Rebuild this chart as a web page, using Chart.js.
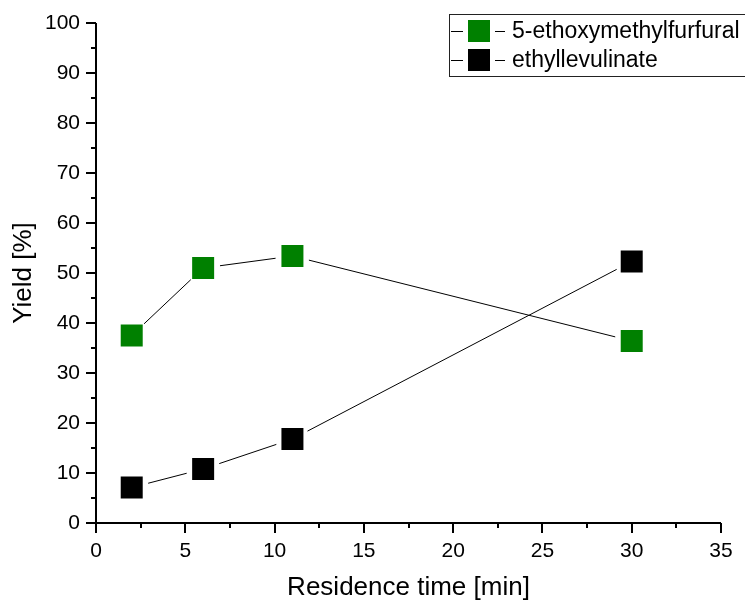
<!DOCTYPE html>
<html><head><meta charset="utf-8">
<script src="https://cdn.jsdelivr.net/npm/chart.js@4"></script>
<style>html,body{margin:0;padding:0;background:#fff;overflow:hidden}#wrap{width:745px;height:601px;position:relative}</style>
</head><body><div id="wrap"><canvas id="c" width="745" height="601"></canvas></div>
<script>
const residenceTime = [2, 6, 11, 30];
const emfYield = [37.5, 51.0, 53.4, 36.4];
const elYield = [7.1, 10.8, 16.8, 52.3];
const seriesNames = ['5-ethoxymethylfurfural', 'ethyllevulinate'];
const seriesColors = ['#008000', '#000000'];
const xTickLabels = [0, 5, 10, 15, 20, 25, 30, 35];
const yTickLabels = [0, 10, 20, 30, 40, 50, 60, 70, 80, 90, 100];
const xTitle = 'Residence time [min]';
const yTitle = 'Yield [%]';

const FONT = "'Liberation Sans', Arial, sans-serif";
const GAP = 17;
const MARK = 22;

function pts(ys) { return residenceTime.map((x, i) => ({x: x, y: ys[i]})); }

const originPlugin = {
  id: 'originStyle',
  beforeDatasetsDraw(chart) {
    const ctx = chart.ctx, xs = chart.scales.x, ys = chart.scales.y;
    chart.data.datasets.forEach(ds => {
      ctx.save();
      ctx.strokeStyle = '#000'; ctx.lineWidth = 1;
      for (let i = 0; i < ds.data.length - 1; i++) {
        const x0 = xs.getPixelForValue(ds.data[i].x), y0 = ys.getPixelForValue(ds.data[i].y);
        const x1 = xs.getPixelForValue(ds.data[i+1].x), y1 = ys.getPixelForValue(ds.data[i+1].y);
        const dx = x1 - x0, dy = y1 - y0, L = Math.hypot(dx, dy);
        if (L <= 2 * GAP) continue;
        const ux = dx / L, uy = dy / L;
        ctx.beginPath();
        ctx.moveTo(x0 + ux * GAP, y0 + uy * GAP);
        ctx.lineTo(x1 - ux * GAP, y1 - uy * GAP);
        ctx.stroke();
      }
      ctx.restore();
    });
  },
  afterDraw(chart) {
    const ctx = chart.ctx, xs = chart.scales.x, ys = chart.scales.y;
    const ca = chart.chartArea;
    ctx.save();
    ctx.strokeStyle = '#000'; ctx.lineWidth = 2; ctx.lineCap = 'butt';
    ctx.beginPath();
    ctx.moveTo(ca.left, ca.top); ctx.lineTo(ca.left, ca.bottom + 1);
    ctx.moveTo(ca.left - 1, ca.bottom); ctx.lineTo(ca.right, ca.bottom);
    ctx.stroke();
    ctx.beginPath();
    for (let v = ys.min; v <= ys.max + 1e-9; v += 5) {
      const y = Math.round(ys.getPixelForValue(v));
      const len = (v % 10 === 0) ? 10 : 5;
      ctx.moveTo(ca.left, y); ctx.lineTo(ca.left - len, y);
    }
    for (let v = xs.min; v <= xs.max + 1e-9; v += 2.5) {
      const x = Math.round(xs.getPixelForValue(v));
      const len = (v % 5 === 0) ? 10 : 5;
      ctx.moveTo(x, ca.bottom); ctx.lineTo(x, ca.bottom + len);
    }
    ctx.stroke();
    ctx.lineWidth = 1;
    ctx.strokeStyle = '#222';
    ctx.strokeRect(449.5, 14.5, 330, 62);
    const rows = [31, 60];
    chart.data.datasets.forEach((ds, i) => {
      const y = rows[i];
      ctx.strokeStyle = '#000'; ctx.lineWidth = 1;
      ctx.beginPath();
      ctx.moveTo(451, y + 0.5); ctx.lineTo(463, y + 0.5);
      ctx.moveTo(495, y + 0.5); ctx.lineTo(505, y + 0.5);
      ctx.stroke();
      ctx.fillStyle = ds.backgroundColor;
      ctx.fillRect(479 - MARK / 2, y - MARK / 2, MARK, MARK);
      ctx.fillStyle = '#000';
      ctx.font = '23px ' + FONT;
      ctx.textBaseline = 'middle';
      ctx.textAlign = 'left';
      ctx.fillText(ds.label, 512, y + 1);
    });
    ctx.restore();
  }
};

new Chart(document.getElementById('c'), {
  type: 'scatter',
  data: {
    datasets: [
      { label: seriesNames[0], data: pts(emfYield), backgroundColor: seriesColors[0], borderColor: seriesColors[0],
        pointStyle: 'rect', pointRadius: MARK / Math.SQRT2, pointHoverRadius: MARK / Math.SQRT2, borderWidth: 0, showLine: false },
      { label: seriesNames[1], data: pts(elYield), backgroundColor: seriesColors[1], borderColor: seriesColors[1],
        pointStyle: 'rect', pointRadius: MARK / Math.SQRT2, pointHoverRadius: MARK / Math.SQRT2, borderWidth: 0, showLine: false }
    ]
  },
  options: {
    responsive: false,
    animation: false,
    devicePixelRatio: 1,
    events: [],
    layout: { autoPadding: false, padding: { top: 23, right: 24, left: 0, bottom: 0 } },
    plugins: { legend: { display: false }, tooltip: { enabled: false } },
    scales: {
      x: {
        type: 'linear', min: 0, max: 35,
        afterFit(s) { s.height = 78; },
        afterBuildTicks(s) { s.ticks = xTickLabels.map(v => ({value: v})); },
        grid: { display: false, drawTicks: true, tickLength: 16 },
        border: { display: false },
        ticks: { padding: 0, color: '#000', font: { family: FONT, size: 21 }, maxRotation: 0, autoSkip: false },
        title: { display: true, text: xTitle, color: '#000', font: { family: FONT, size: 26, lineHeight: 1 }, padding: 0 }
      },
      y: {
        type: 'linear', min: 0, max: 100,
        afterFit(s) { s.width = 96; },
        afterBuildTicks(s) { s.ticks = yTickLabels.map(v => ({value: v})); },
        grid: { display: false, drawTicks: true, tickLength: 16 },
        border: { display: false },
        ticks: { padding: 0, color: '#000', font: { family: FONT, size: 21 }, autoSkip: false },
        title: { display: true, text: yTitle, color: '#000', font: { family: FONT, size: 26, lineHeight: 1 }, padding: { top: 11, bottom: 0 } }
      }
    }
  },
  plugins: [originPlugin]
});
</script></body></html>
